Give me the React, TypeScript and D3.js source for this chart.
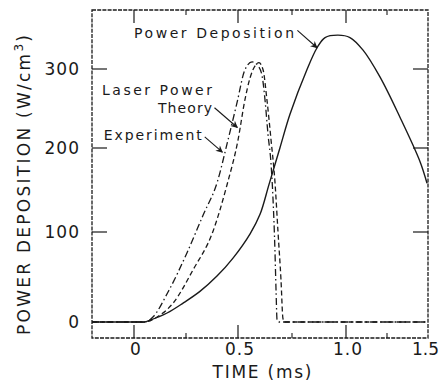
import React from "react";
import * as d3 from "d3";

// ---- data ----
const timeDeposition = [-0.2, -0.1, 0, 0.03, 0.05, 0.077, 0.159, 0.236, 0.317, 0.399, 0.476, 0.556, 0.602, 0.644, 0.694, 0.741, 0.819, 0.866, 0.903, 0.963, 1.024, 1.104, 1.207, 1.329, 1.451, 1.494];
const powerDeposition = [0, 0, 0, 0, 0, 2, 10, 21, 34, 51, 71, 98, 121, 157, 200, 243, 299, 327, 340, 343, 340, 324, 290, 239, 184, 158];

const timeExperiment = [-0.2, 0.05, 0.091, 0.163, 0.255, 0.332, 0.401, 0.449, 0.495, 0.532, 0.565, 0.593, 0.611, 0.625, 0.639, 0.653, 0.662, 0.671, 0.676, 0.681, 0.69, 1.5];
const powerExperiment = [0, 0, 5.6, 33, 77, 120, 160, 207, 257, 299, 309, 304, 292, 261, 217, 181, 140, 80, 36, 2, 0, 0];

const timeTheory = [-0.2, 0.05, 0.111, 0.188, 0.284, 0.38, 0.447, 0.5, 0.532, 0.556, 0.579, 0.597, 0.616, 0.634, 0.653, 0.671, 0.685, 0.699, 0.708, 0.715, 1.5];
const powerTheory = [0, 0, 5.6, 21, 58, 101, 156, 210, 261, 289, 304, 308, 299, 261, 210, 160, 101, 47, 4, 0, 0];

const xMajorTicks = [0, 0.5, 1.0, 1.5];
const xMajorLabels = ["0", "0.5", "1.0", "1.5"];
const xMinorTicks = [0.25, 0.75, 1.25];
const yMajorTicks = [0, 100, 200, 300];
const yMajorLabels = ["0", "100", "200", "300"];

// ---- layout ----
const W = 440, H = 383;
const FONT = "'DejaVu Sans', Verdana, sans-serif";
const INK = "#1a1a1a";

// scanned axes are slightly non-uniform: polylinear scales follow the printed ticks
const x = d3.scaleLinear().domain([-0.2, 0, 0.5, 1.0, 1.5]).range([92, 134, 238, 346, 428]);
const y = d3.scaleLinear().domain([-18, 0, 100, 200, 300, 375]).range([338, 322, 232, 148, 69, 10]);

const mkLine = (ts: number[], vs: number[], curve: d3.CurveFactory) =>
  d3.line<number>()
    .x((_, i) => x(ts[i]))
    .y((v) => y(v))
    .curve(curve)(vs) || "";

const annotations = [
  { text: "Power Deposition", t: 0.0, v: 339, anchor: "start", len: 160, from: [0.775, 349], to: [0.866, 327] },
  { text: "Laser Power", t: 0.375, v: 267, anchor: "end", len: 110, from: null, to: null },
  { text: "Theory", t: 0.375, v: 244, anchor: "end", len: 54, from: [0.387, 251], to: [0.497, 226] },
  { text: "Experiment", t: -0.144, v: 210, anchor: "start", len: 98, from: [0.34, 214], to: [0.425, 195] },
];

export default function App() {
  const x0 = x.range()[0], x1 = x.range()[x.range().length - 1];
  const yb = y.range()[0], yt = y.range()[y.range().length - 1];
  return (
    <svg width={W} height={H} style={{ position: "absolute", left: 0, top: 0, background: "#fff" }} fontFamily={FONT}>
      <defs>
        <marker id="ah" viewBox="0 0 10 10" refX="9" refY="5" markerWidth="9" markerHeight="7" orient="auto" markerUnits="userSpaceOnUse">
          <path d="M0,0 L10,5 L0,10 L3,5 Z" fill={INK} />
        </marker>
      </defs>

      {/* frame */}
      <rect x={x0} y={yt} width={x1 - x0} height={yb - yt} fill="none" stroke={INK} strokeWidth={1.3} strokeDasharray="4,1.2" />

      {/* x ticks (inward, bottom and top) */}
      {xMajorTicks.filter((t) => t < 1.5).map((t) => (
        <g key={"xm" + t}>
          <line x1={x(t)} x2={x(t)} y1={yb} y2={yb - 13} stroke={INK} strokeWidth={1.2} />
          <line x1={x(t)} x2={x(t)} y1={yt} y2={yt + 13} stroke={INK} strokeWidth={1.2} />
        </g>
      ))}
      {xMinorTicks.map((t) => (
        <g key={"xn" + t}>
          <line x1={x(t)} x2={x(t)} y1={yb} y2={yb - 5} stroke={INK} strokeWidth={1.1} />
          <line x1={x(t)} x2={x(t)} y1={yt} y2={yt + 5} stroke={INK} strokeWidth={1.1} />
        </g>
      ))}
      {xMajorTicks.map((t, i) => (
        <text key={"xl" + t} x={t === 1.5 ? 439 : x(t) + 2} y={355} fontSize={17} textAnchor={t === 1.5 ? "end" : "middle"} fill={INK} letterSpacing={t === 1.5 ? 0 : 1}>
          {xMajorLabels[i]}
        </text>
      ))}

      {/* y ticks (inward, left and right) */}
      {yMajorTicks.filter((v) => v > 0).map((v) => (
        <g key={"ym" + v}>
          <line x1={x0} x2={x0 + 15} y1={y(v)} y2={y(v)} stroke={INK} strokeWidth={1.2} />
          <line x1={x1} x2={x1 - 15} y1={y(v)} y2={y(v)} stroke={INK} strokeWidth={1.2} />
        </g>
      ))}
      {yMajorTicks.map((v, i) => (
        <text key={"yl" + v} x={80} y={y(v)} dy="0.36em" fontSize={17} textAnchor="end" fill={INK} letterSpacing={1}>
          {yMajorLabels[i]}
        </text>
      ))}

      {/* axis titles */}
      <text x={262} y={378} fontSize={17} textAnchor="middle" fill={INK} textLength={99} lengthAdjust="spacing">TIME (ms)</text>
      <text transform="translate(30,185) rotate(-90)" fontSize={17} textAnchor="middle" fill={INK} textLength={300} lengthAdjust="spacing">
        POWER DEPOSITION (W/cm<tspan dy="-7" fontSize={12}>3</tspan><tspan dy="7">)</tspan>
      </text>

      {/* curves */}
      <path d={mkLine(timeDeposition, powerDeposition, d3.curveCatmullRom.alpha(0.5))} fill="none" stroke={INK} strokeWidth={1.4} />
      <path d={mkLine(timeTheory, powerTheory, d3.curveMonotoneX)} fill="none" stroke={INK} strokeWidth={1.3} strokeDasharray="5,3" />
      <path d={mkLine(timeExperiment, powerExperiment, d3.curveMonotoneX)} fill="none" stroke={INK} strokeWidth={1.3} strokeDasharray="7,3,1.5,3" />

      {/* annotations */}
      {annotations.map((a) => (
        <g key={a.text}>
          <text x={x(a.t)} y={y(a.v)} fontSize={14} textAnchor={a.anchor as any} fill={INK} textLength={a.len} lengthAdjust="spacing">
            {a.text}
          </text>
          {a.from && a.to && (
            <line x1={x(a.from[0])} y1={y(a.from[1])} x2={x(a.to[0])} y2={y(a.to[1])} stroke={INK} strokeWidth={1.1} markerEnd="url(#ah)" />
          )}
        </g>
      ))}
    </svg>
  );
}
